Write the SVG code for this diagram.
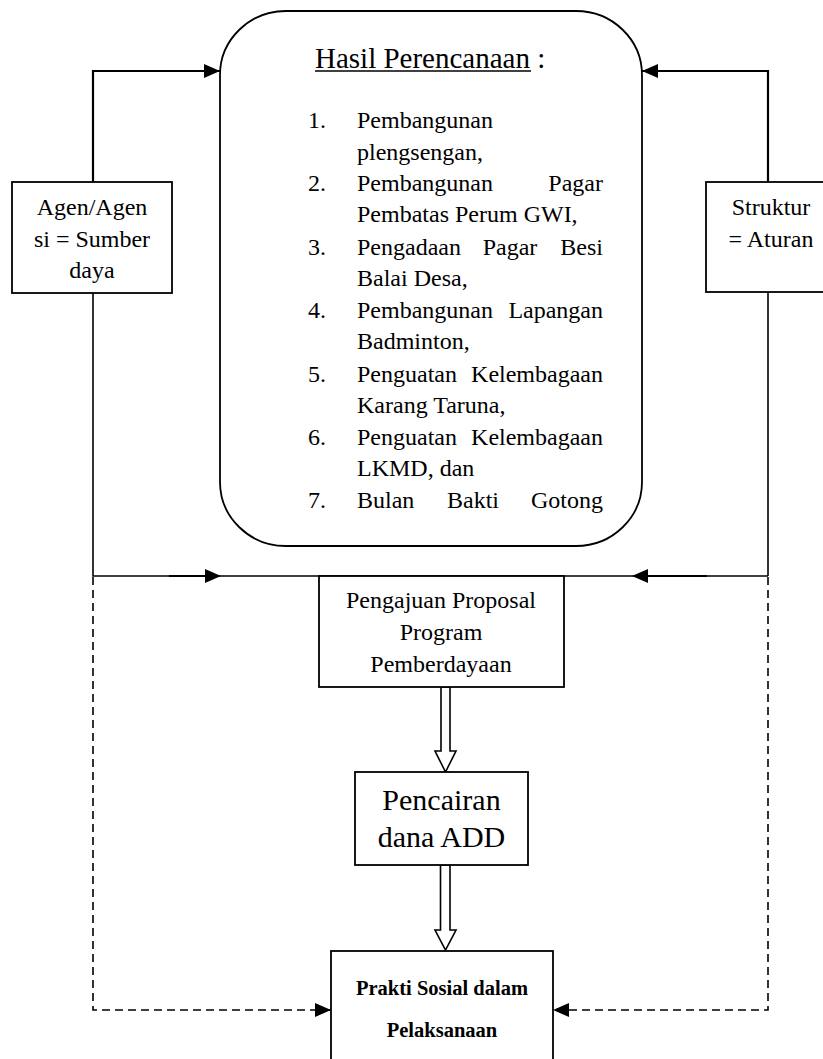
<svg xmlns="http://www.w3.org/2000/svg" width="823" height="1059" viewBox="0 0 823 1059">
<style>
  text { font-family: "Liberation Serif", "Times New Roman", serif; fill: #000; }
  .t24 { font-size: 24px; }
  .t30 { font-size: 30px; }
  .tb { font-size: 20.5px; font-weight: bold; }
  .box { fill: #fff; stroke: #000; stroke-width: 1.8; }
  .ln { fill: none; stroke: #000; stroke-width: 1.6; }
  .lnb { fill: none; stroke: #000; stroke-width: 2.2; }
  .dash { fill: none; stroke: #000; stroke-width: 1.6; stroke-dasharray: 8 5; }
  .hollow { fill: #fff; stroke: #000; stroke-width: 1.6; stroke-linejoin: miter; }
</style>
<defs>
  <marker id="arr" markerWidth="16" markerHeight="14" refX="16" refY="7" orient="auto" markerUnits="userSpaceOnUse">
    <path d="M0,0 L16,7 L0,14 z" fill="#000"/>
  </marker>
</defs>
<rect width="823" height="1059" fill="#fff"/>

<g id="connectors">
  <path class="lnb" d="M93,182 V71 H220" marker-end="url(#arr)"/>
  <path class="lnb" d="M768,182 V71 H642" marker-end="url(#arr)"/>
  <path class="ln" d="M93,293 V576 H768"/>
  <path class="ln" d="M768,292 V576"/>
  <path class="lnb" d="M169,576 H206"/>
  <polygon points="205,569 221,576 205,583" fill="#000"/>
  <path class="lnb" d="M646,576 H707"/>
  <polygon points="648,569 632,576 648,583" fill="#000"/>
  <path class="dash" d="M93,577 V1010 H331" marker-end="url(#arr)"/>
  <path class="dash" d="M768,577 V1010 H553" marker-end="url(#arr)"/>
  <polygon class="hollow" points="441,687 441,751 435,751 445.5,772 456,751 450,751 450,687"/>
  <polygon class="hollow" points="440.5,865 440.5,930 435,930 445.5,950 456,930 450,930 450,865"/>
</g>

<g id="hasil">
  <rect class="box" x="220" y="11" width="422" height="535" rx="66" ry="64" stroke-width="2"/>
  <text x="315" y="68" style="font-size:29px">Hasil Perencanaan :</text>
  <line x1="315" y1="71" x2="531" y2="71" stroke="#000" stroke-width="1.5"/>
  <g class="t24">
    <text x="308" y="128">1.</text>
    <text x="357" y="128">Pembangunan</text>
    <text x="357" y="160">plengsengan,</text>
    <text x="308" y="191">2.</text>
    <text x="357" y="191">Pembangunan</text>
    <text x="603" y="191" text-anchor="end">Pagar</text>
    <text x="357" y="222">Pembatas Perum GWI,</text>
    <text x="308" y="255">3.</text>
    <text x="357" y="255">Pengadaan</text>
    <text x="510" y="255" text-anchor="middle">Pagar</text>
    <text x="603" y="255" text-anchor="end">Besi</text>
    <text x="357" y="286">Balai Desa,</text>
    <text x="308" y="318">4.</text>
    <text x="357" y="318">Pembangunan</text>
    <text x="603" y="318" text-anchor="end">Lapangan</text>
    <text x="357" y="349">Badminton,</text>
    <text x="308" y="382">5.</text>
    <text x="357" y="382">Penguatan</text>
    <text x="603" y="382" text-anchor="end">Kelembagaan</text>
    <text x="357" y="413">Karang Taruna,</text>
    <text x="308" y="445">6.</text>
    <text x="357" y="445">Penguatan</text>
    <text x="603" y="445" text-anchor="end">Kelembagaan</text>
    <text x="357" y="476">LKMD, dan</text>
    <text x="308" y="508">7.</text>
    <text x="357" y="508">Bulan</text>
    <text x="473" y="508" text-anchor="middle">Bakti</text>
    <text x="603" y="508" text-anchor="end">Gotong</text>
  </g>
</g>

<g id="agen">
  <rect class="box" x="12" y="182" width="160" height="111"/>
  <text class="t24" x="92" y="215" text-anchor="middle">Agen/Agen</text>
  <text class="t24" x="92" y="247" text-anchor="middle">si = Sumber</text>
  <text class="t24" x="92" y="278" text-anchor="middle">daya</text>
</g>

<g id="struktur">
  <rect class="box" x="706" y="182" width="130" height="110"/>
  <text class="t24" x="771" y="215" text-anchor="middle">Struktur</text>
  <text class="t24" x="771" y="247" text-anchor="middle">= Aturan</text>
</g>

<g id="pengajuan">
  <rect class="box" x="319" y="576" width="245" height="111"/>
  <text class="t24" x="441" y="608" text-anchor="middle">Pengajuan Proposal</text>
  <text class="t24" x="441" y="640" text-anchor="middle">Program</text>
  <text class="t24" x="441" y="672" text-anchor="middle">Pemberdayaan</text>
</g>

<g id="pencairan">
  <rect class="box" x="355" y="772" width="173" height="93"/>
  <text class="t30" x="441.5" y="810" text-anchor="middle">Pencairan</text>
  <text class="t30" x="441.5" y="847" text-anchor="middle">dana ADD</text>
</g>

<g id="prakti">
  <rect class="box" x="331" y="951" width="222" height="130"/>
  <text class="tb" x="442" y="995" text-anchor="middle">Prakti Sosial dalam</text>
  <text class="tb" x="442" y="1037" text-anchor="middle">Pelaksanaan</text>
</g>
</svg>
